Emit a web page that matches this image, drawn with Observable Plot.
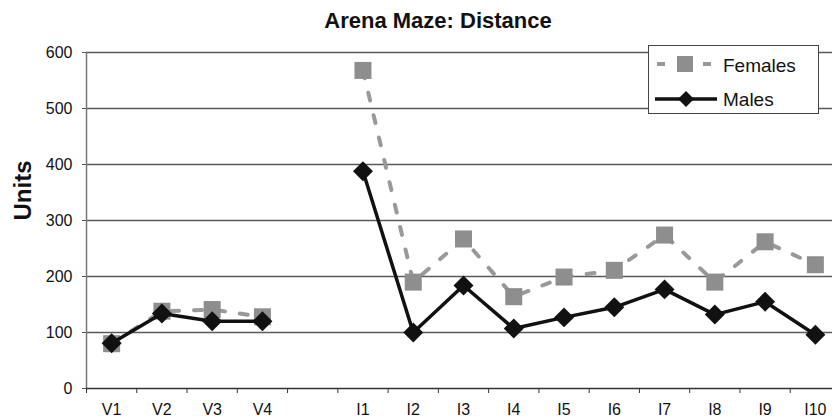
<!DOCTYPE html>
<html><head><meta charset="utf-8">
<script src="https://cdn.jsdelivr.net/npm/d3@7"></script>
<script src="https://cdn.jsdelivr.net/npm/@observablehq/plot@0.6"></script>
<style>
html,body{margin:0;padding:0;background:#fff;overflow:hidden;}
#wrap{position:relative;width:832px;height:420px;overflow:hidden;font-family:"Liberation Sans",Arial,sans-serif;background:#fff;}
#title{position:absolute;left:0;top:10px;width:876px;text-align:center;font-weight:bold;font-size:22px;line-height:22px;color:#111;}
#legend{position:absolute;left:648px;top:45px;}
</style></head><body><div id="wrap"><div id="title"></div></div>
<script>
// ---- data ----
const title = "Arena Maze: Distance";
const yLabel = "Units";
const categories = ["V1","V2","V3","V4","","I1","I2","I3","I4","I5","I6","I7","I8","I9","I10"];
const females = [80,138,141,128,null,568,190,267,164,199,211,274,190,262,221];
const males   = [81,134,120,120,null,388,100,184,107,127,145,177,132,155,96];
const yTicks = [0,100,200,300,400,500,600];
const seriesNames = ["Females","Males"];

const FONT = '"Liberation Sans", Arial, sans-serif';
const rows = categories.map((c,i)=>({i, c, f: females[i], m: males[i]}));
const bounds = d3.range(categories.length+1).map(k=>k-0.5);
const labelled = rows.filter(d=>d.c !== "").map(d=>d.i);

document.getElementById("title").textContent = title;

const chart = Plot.plot({
  width: 832, height: 420,
  marginTop: 52, marginBottom: 32, marginLeft: 86, marginRight: -8,
  style: {fontFamily: FONT, fontSize: "16px", color: "#111", background: "transparent", overflow: "hidden"},
  x: {type: "linear", domain: [-0.5, categories.length - 0.5]},
  y: {domain: [0, 600]},
  marks: [
    Plot.gridY(yTicks.slice(1), {stroke: "#5a5a5a", strokeOpacity: 1, strokeWidth: 1.3}),
    Plot.axisY(yTicks, {tickSize: 4, tickPadding: 10, label: null, fontSize: 16, stroke: "#555"}),
    Plot.ruleX([-0.5], {stroke: "#777", strokeWidth: 1.5}),
    Plot.ruleY([0], {stroke: "#333", strokeWidth: 1.5}),
    Plot.axisX(bounds, {tickSize: 5, tickFormat: () => "", label: null, stroke: "#333"}),
    Plot.axisX(labelled, {tickSize: 0, tickPadding: 15, tickFormat: i => categories[i], label: null, fontSize: 16}),
    Plot.line(rows, {x: "i", y: "f", stroke: "#999", strokeWidth: 4, strokeDasharray: "8,15"}),
    Plot.dot(rows, {x: "i", y: "f", symbol: "square", r: 9.6, fill: "#8e8e8e"}),
    Plot.line(rows, {x: "i", y: "m", stroke: "#111", strokeWidth: 3.5}),
    Plot.dot(rows, {x: "i", y: "m", symbol: "diamond2", r: 9, fill: "#111"}),
    Plot.text([yLabel], {frameAnchor: "left", rotate: -90, dx: -63, fontWeight: "bold", fontSize: 24, fill: "#111"})
  ]
});
document.getElementById("wrap").appendChild(chart);

// ---- legend ----
const lg = d3.select("#wrap").append("svg").attr("id","legend").attr("width",171).attr("height",69);
lg.append("rect").attr("x",0.5).attr("y",0.5).attr("width",170).attr("height",68).attr("fill","#fff").attr("stroke","#444");
const r1 = 19, r2 = 54;
lg.append("line").attr("x1",9).attr("x2",64).attr("y1",r1).attr("y2",r1)
  .attr("stroke","#999").attr("stroke-width",4).attr("stroke-dasharray","8,38");
lg.append("rect").attr("x",29).attr("y",r1-8).attr("width",16).attr("height",16).attr("fill","#8e8e8e");
lg.append("line").attr("x1",7).attr("x2",69).attr("y1",r2).attr("y2",r2).attr("stroke","#111").attr("stroke-width",3.5);
lg.append("path").attr("d",`M38,${r2-8}L46,${r2}L38,${r2+8}L30,${r2}Z`).attr("fill","#111");
lg.selectAll("text.l").data(seriesNames).join("text")
  .attr("x",75).attr("y",(d,i)=> i===0 ? 27 : 61)
  .attr("font-family",FONT).attr("font-size",19).attr("fill","#111").text(d=>d);
</script></body></html>
